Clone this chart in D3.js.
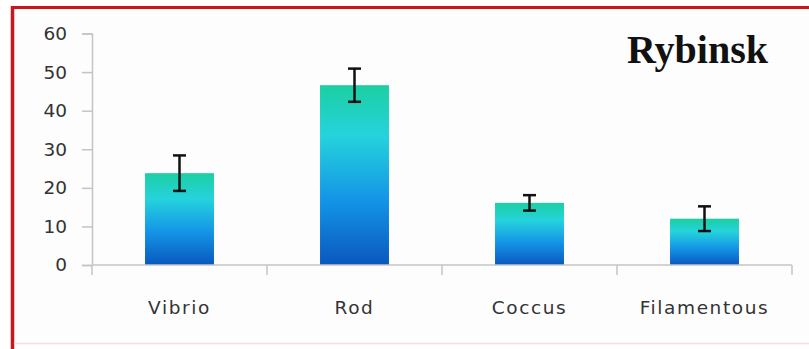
<!DOCTYPE html>
<html>
<head>
<meta charset="utf-8">
<script src="https://cdn.jsdelivr.net/npm/d3@7"></script>
<style>
  html, body { margin: 0; padding: 0; background: #ffffff; }
  svg { display: block; }
</style>
</head>
<body>
<svg id="chart" width="809" height="349"></svg>
<script>
// Bacterial morphotype shares, Rybinsk reservoir
const categories = ["Vibrio", "Rod", "Coccus", "Filamentous"];
const means = [23.8, 46.6, 16.1, 12.0];
const errors = [4.6, 4.3, 2.0, 3.2];
const yTicks = [0, 10, 20, 30, 40, 50, 60];
const title = "Rybinsk";

const W = 809, H = 349;
const margin = { top: 33.5, right: 17, bottom: 84, left: 92 };

const svg = d3.select("#chart");

// Page background and red frame
svg.append("rect").attr("width", W).attr("height", H).attr("fill", "#ffffff");
svg.append("rect").attr("x", 12.5).attr("y", 7.5).attr("width", W).attr("height", H - 11)
  .attr("fill", "#fdfdfd").attr("stroke", "none");
svg.append("line").attr("x1", 12.5).attr("x2", 12.5).attr("y1", 6).attr("y2", H)
  .attr("stroke", "#c8171d").attr("stroke-width", 3.5);
svg.append("line").attr("x1", 11).attr("x2", W).attr("y1", 7.5).attr("y2", 7.5)
  .attr("stroke", "#c8171d").attr("stroke-width", 3);
svg.append("line").attr("x1", 14).attr("x2", W).attr("y1", 343.5).attr("y2", 343.5)
  .attr("stroke", "#f6dede").attr("stroke-width", 1.5);

const x = d3.scaleBand()
  .domain(categories)
  .range([margin.left, W - margin.right])
  .paddingInner(0).paddingOuter(0);

const y = d3.scaleLinear()
  .domain([0, 60])
  .range([H - margin.bottom, margin.top]);

// Vertical gradient for the bars
const defs = svg.append("defs");
const grad = defs.append("linearGradient")
  .attr("id", "barGrad").attr("x1", 0).attr("y1", 0).attr("x2", 0).attr("y2", 1);
[
  [0, "#1ccfa2"],
  [0.28, "#25d3dc"],
  [0.65, "#1393e6"],
  [1, "#0a58bd"]
].forEach(([o, c]) => grad.append("stop").attr("offset", o).attr("stop-color", c));

const barW = x.bandwidth() * 0.394;

// Bars
svg.append("g").selectAll("rect")
  .data(categories)
  .join("rect")
  .attr("x", (d) => x(d) + (x.bandwidth() - barW) / 2)
  .attr("y", (d, i) => y(means[i]))
  .attr("width", barW)
  .attr("height", (d, i) => y(0) - y(means[i]))
  .attr("fill", "url(#barGrad)");

// Y axis
const yAxis = svg.append("g")
  .attr("transform", `translate(${margin.left},0)`)
  .call(d3.axisLeft(y).tickValues(yTicks).tickSize(10).tickPadding(15));
yAxis.select(".domain").attr("stroke", "#c4c4c4").attr("stroke-width", 1.5);
yAxis.selectAll(".tick line").attr("stroke", "#c4c4c4").attr("stroke-width", 1.5);
yAxis.selectAll(".tick text")
  .attr("fill", "#333")
  .style("font-family", "'DejaVu Sans', sans-serif")
  .style("font-size", "18.5px");

// X axis: baseline with boundary ticks between categories
const xAxisG = svg.append("g");
xAxisG.append("line")
  .attr("x1", margin.left).attr("x2", W - margin.right)
  .attr("y1", y(0)).attr("y2", y(0))
  .attr("stroke", "#c4c4c4").attr("stroke-width", 1.5);
const bounds = categories.map((d) => x(d)).concat([x(categories[categories.length - 1]) + x.bandwidth()]);
xAxisG.selectAll("line.sep")
  .data(bounds)
  .join("line")
  .attr("class", "sep")
  .attr("x1", (d) => d).attr("x2", (d) => d)
  .attr("y1", y(0)).attr("y2", y(0) + 10)
  .attr("stroke", "#c4c4c4").attr("stroke-width", 1.5);
xAxisG.selectAll("text")
  .data(categories)
  .join("text")
  .attr("x", (d) => x(d) + x.bandwidth() / 2)
  .attr("y", y(0) + 49)
  .attr("text-anchor", "middle")
  .attr("fill", "#333")
  .style("font-family", "'DejaVu Sans', sans-serif")
  .style("font-size", "18.5px")
  .style("letter-spacing", "1.6px")
  .text((d) => d);

// Error bars
const eg = svg.append("g").attr("stroke", "#111").attr("stroke-width", 2.5);
categories.forEach((c, i) => {
  const cx = x(c) + x.bandwidth() / 2;
  const hi = y(means[i] + errors[i]);
  const lo = y(means[i] - errors[i]);
  eg.append("line").attr("x1", cx).attr("x2", cx).attr("y1", hi).attr("y2", lo);
  eg.append("line").attr("x1", cx - 6.5).attr("x2", cx + 6.5).attr("y1", hi).attr("y2", hi);
  eg.append("line").attr("x1", cx - 6.5).attr("x2", cx + 6.5).attr("y1", lo).attr("y2", lo);
});

// Title
svg.append("text")
  .attr("x", 768).attr("y", 63)
  .attr("text-anchor", "end")
  .attr("fill", "#111")
  .style("font-family", "'Liberation Serif', 'Times New Roman', serif")
  .style("font-weight", "bold")
  .style("font-size", "40px")
  .text(title);
</script>
</body>
</html>
